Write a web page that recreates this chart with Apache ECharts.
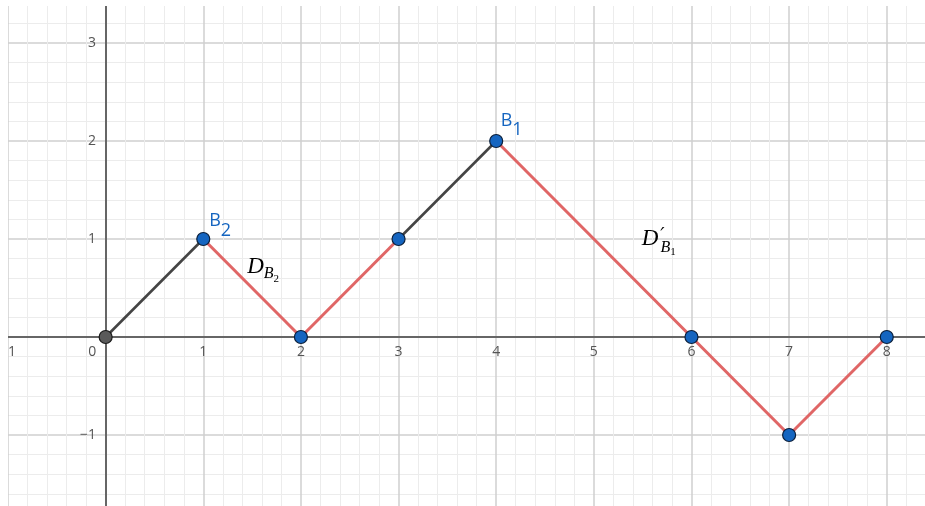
<!DOCTYPE html>
<html>
<head>
<meta charset="utf-8">
<script src="https://cdn.jsdelivr.net/npm/echarts@6/dist/echarts.min.js"></script>
<style>
  html, body { margin: 0; padding: 0; background: #fff; overflow: hidden; }
  #chart { position: absolute; left: 8px; top: 6px; width: 917px; height: 500px; }
</style>
</head>
<body>
<div id="chart"></div>
<script>
// the path of the walk
const pathX = [0, 1, 2, 3, 4, 6, 7, 8];
const pathY = [0, 1, 0, 1, 2, 0, -1, 0];
// colour of segment i (vertex i -> vertex i+1)
const segKind = ['dark', 'red', 'red', 'dark', 'red', 'red', 'red'];
// colour of each vertex
const pointKind = ['dark', 'blue', 'blue', 'blue', 'blue', 'blue', 'blue', 'blue'];

// axis ranges (whole units, the canvas cuts the rest)
const xMin = -1, xMax = 9;
const yMin = -2, yMax = 4;

// point names
const nameMain = ['B', 'B'];
const nameSub = ['2', '1'];
const nameX = [1.173, 4.158];
const nameY = [1.184, 2.209];

// formula labels
const mathText = ['{d|D}{s|B}{t|2}', '{d|D}{p|′}', '{s|B}{t|1}'];
const mathX = [1.613, 5.607, 5.760];
const mathY = [0.719, 1.005, 0.908];

const COLORS = { dark: '#444444', red: '#e06666', blue: '#1565c0' };
const POINT_FILL = { dark: '#5a5a5a', blue: '#1565c0' };

const chart = echarts.init(document.getElementById('chart'));

const series = [];
for (let i = 0; i < segKind.length; i++) {
  series.push({
    type: 'line',
    data: [[pathX[i], pathY[i]], [pathX[i + 1], pathY[i + 1]]],
    showSymbol: false,
    silent: true,
    z: 3,
    lineStyle: { color: COLORS[segKind[i]], width: segKind[i] === 'red' ? 3 : 2.6 }
  });
}

series.push({
  type: 'scatter',
  z: 5,
  symbolSize: 13,
  data: pathX.map((x, i) => ({
    value: [x, pathY[i]],
    itemStyle: {
      color: POINT_FILL[pointKind[i]],
      opacity: 1,
      borderColor: pointKind[i] === 'dark' ? '#1a1a1a' : '#0b1f3a',
      borderWidth: 1.2
    }
  }))
});

const sansRich = {
  b: { fontFamily: 'Open Sans', fontSize: 18, color: COLORS.blue },
  s: { fontFamily: 'Open Sans', fontSize: 18, color: COLORS.blue, padding: [19, 0, 0, 0] }
};

series.push({
  type: 'scatter',
  z: 6,
  silent: true,
  symbolSize: 1,
  itemStyle: { color: 'rgba(0,0,0,0)', opacity: 1 },
  data: nameMain.map((n, i) => ({
    value: [nameX[i], nameY[i]],
    label: {
      show: true,
      position: 'inside',
      formatter: '{b|' + n + '}{s|' + nameSub[i] + '}',
      rich: sansRich
    }
  }))
});

const mathRich = {
  d: { fontFamily: 'Liberation Serif', fontStyle: 'italic', fontSize: 23, color: '#000' },
  p: { fontFamily: 'DejaVu Serif', fontStyle: 'italic', fontSize: 19, color: '#000', padding: [0, 0, 4, 2] },
  s: { fontFamily: 'Liberation Serif', fontStyle: 'italic', fontSize: 16, color: '#000', padding: [15, 0, 0, 0] },
  t: { fontFamily: 'Liberation Serif', fontSize: 11, color: '#000', padding: [25, 0, 0, 0] }
};
const subRich = {
  s: { fontFamily: 'Liberation Serif', fontStyle: 'italic', fontSize: 16, color: '#000' },
  t: { fontFamily: 'Liberation Serif', fontSize: 11, color: '#000', padding: [8, 0, 0, 0] }
};

series.push({
  type: 'scatter',
  z: 6,
  silent: true,
  symbolSize: 1,
  itemStyle: { color: 'rgba(0,0,0,0)', opacity: 1 },
  data: mathText.map((t, i) => ({
    value: [mathX[i], mathY[i]],
    label: {
      show: true,
      position: 'inside',
      formatter: t,
      rich: t.indexOf('{d|') === 0 ? mathRich : subRich
    }
  }))
});

const minus = v => String(v).replace('-', '\u2212');

chart.setOption({
  animation: false,
  backgroundColor: '#fff',
  grid: { left: 0, right: -59.4, top: -61, bottom: -27, outerBoundsMode: 'none', containLabel: false },
  xAxis: {
    type: 'value',
    min: xMin,
    max: xMax,
    interval: 1,
    axisLine: { onZero: true, lineStyle: { color: '#666', width: 2 } },
    axisTick: { show: false },
    axisLabel: {
      color: '#555',
      fontFamily: 'Open Sans',
      fontSize: 14,
      margin: -188,
      formatter: v => (v === 0 ? '{z|0}' : minus(v)),
      rich: { z: { color: '#555', fontFamily: 'Open Sans', fontSize: 14, padding: [0, 27, 0, 0] } }
    },
    splitLine: { show: true, lineStyle: { color: '#cfcfcf', width: 1.5 } },
    minorTick: { show: false, splitNumber: 5 },
    minorSplitLine: { show: true, lineStyle: { color: '#ececec', width: 1 } }
  },
  yAxis: {
    type: 'value',
    min: yMin,
    max: yMax,
    interval: 1,
    axisLine: { onZero: true, lineStyle: { color: '#666', width: 2 } },
    axisTick: { show: false },
    axisLabel: {
      color: '#555',
      fontFamily: 'Open Sans',
      fontSize: 14,
      margin: -88,
      formatter: v => (v === 0 ? '' : minus(v))
    },
    splitLine: { show: true, lineStyle: { color: '#cfcfcf', width: 1.5 } },
    minorTick: { show: false, splitNumber: 5 },
    minorSplitLine: { show: true, lineStyle: { color: '#ececec', width: 1 } }
  },
  series: series
});
</script>
</body>
</html>
